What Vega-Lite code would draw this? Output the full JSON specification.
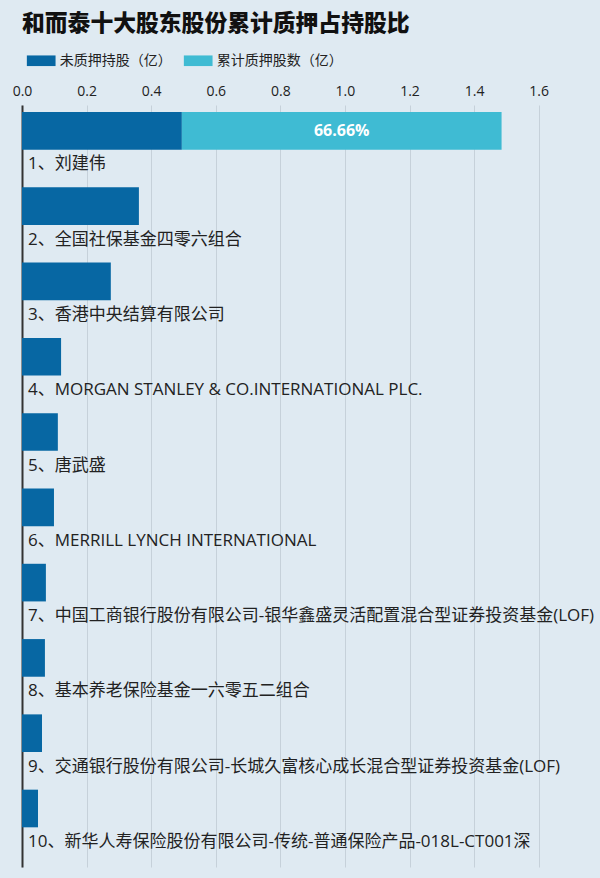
{
  "$schema": "https://vega.github.io/schema/vega-lite/v6.json",
  "width": 549,
  "height": 762,
  "autosize": {"type": "none"},
  "padding": {"left": 22, "top": 105, "right": 29, "bottom": 11},
  "background": "#dfeaf2",
  "title": {
    "text": "和而泰十大股东股份累计质押占持股比",
    "anchor": "start",
    "frame": "group",
    "font": "Noto Sans CJK SC",
    "fontSize": 22.8,
    "fontWeight": 900,
    "color": "#111111",
    "dx": 0,
    "offset": 10.5
  },
  "config": {
    "view": {"stroke": null},
    "font": "Noto Sans CJK SC"
  },
  "data": {
    "values": [
      {"rank": 1, "name": "1、刘建伟", "type": "未质押持股（亿）", "seg": 0, "value": 0.495, "pct": ""},
      {"rank": 1, "name": "1、刘建伟", "type": "累计质押股数（亿）", "seg": 1, "value": 0.99, "pct": "66.66%"},
      {"rank": 2, "name": "2、全国社保基金四零六组合", "type": "未质押持股（亿）", "seg": 0, "value": 0.362, "pct": ""},
      {"rank": 3, "name": "3、香港中央结算有限公司", "type": "未质押持股（亿）", "seg": 0, "value": 0.275, "pct": ""},
      {"rank": 4, "name": "4、MORGAN STANLEY & CO.INTERNATIONAL PLC.", "type": "未质押持股（亿）", "seg": 0, "value": 0.121, "pct": ""},
      {"rank": 5, "name": "5、唐武盛", "type": "未质押持股（亿）", "seg": 0, "value": 0.111, "pct": ""},
      {"rank": 6, "name": "6、MERRILL LYNCH INTERNATIONAL", "type": "未质押持股（亿）", "seg": 0, "value": 0.099, "pct": ""},
      {"rank": 7, "name": "7、中国工商银行股份有限公司-银华鑫盛灵活配置混合型证券投资基金(LOF)", "type": "未质押持股（亿）", "seg": 0, "value": 0.074, "pct": ""},
      {"rank": 8, "name": "8、基本养老保险基金一六零五二组合", "type": "未质押持股（亿）", "seg": 0, "value": 0.071, "pct": ""},
      {"rank": 9, "name": "9、交通银行股份有限公司-长城久富核心成长混合型证券投资基金(LOF)", "type": "未质押持股（亿）", "seg": 0, "value": 0.062, "pct": ""},
      {"rank": 10, "name": "10、新华人寿保险股份有限公司-传统-普通保险产品-018L-CT001深", "type": "未质押持股（亿）", "seg": 0, "value": 0.0495, "pct": ""}
    ]
  },
  "encoding": {
    "y": {
      "field": "name",
      "type": "nominal",
      "sort": {"field": "rank", "op": "min"},
      "scale": {"paddingInner": 0.5, "paddingOuter": 0.31, "align": 0.15},
      "axis": {
        "labels": false,
        "ticks": false,
        "grid": false,
        "title": null,
        "domain": true,
        "domainColor": "#333333",
        "domainWidth": 2
      }
    }
  },
  "layer": [
    {
      "mark": {"type": "bar"},
      "encoding": {
        "x": {
          "field": "value",
          "type": "quantitative",
          "stack": "zero",
          "scale": {"domain": [0, 1.7], "nice": false},
          "axis": {
            "orient": "top",
            "values": [0, 0.2, 0.4, 0.6, 0.8, 1.0, 1.2, 1.4, 1.6],
            "format": ".1f",
            "title": null,
            "domain": false,
            "ticks": false,
            "grid": true,
            "gridColor": "#c6d1da",
            "gridWidth": 1,
            "labelFlush": false,
            "labelFont": "Open Sans",
            "labelFontSize": 14,
            "labelColor": "#222222",
            "labelPadding": 7
          }
        },
        "color": {
          "field": "type",
          "type": "nominal",
          "scale": {
            "domain": ["未质押持股（亿）", "累计质押股数（亿）"],
            "range": ["#0767a3", "#3fbbd3"]
          },
          "legend": {
            "title": null,
            "orient": "none",
            "direction": "horizontal",
            "legendX": 4.7,
            "legendY": -59,
            "padding": 0,
            "symbolType": "M-1,-0.37H1V0.37H-1Z",
            "symbolSize": 824,
            "symbolStrokeWidth": 0,
            "symbolOpacity": 1,
            "labelFont": "Noto Sans CJK SC",
            "labelFontSize": 14,
            "labelColor": "#222222",
            "labelOffset": 4,
            "columnPadding": 12
          }
        },
        "order": {"field": "seg", "type": "quantitative"}
      }
    },
    {
      "mark": {
        "type": "text",
        "color": "#ffffff",
        "fontWeight": "bold",
        "fontSize": 16,
        "font": "Open Sans",
        "baseline": "middle",
        "align": "center"
      },
      "encoding": {
        "x": {"field": "value", "type": "quantitative", "stack": "zero", "bandPosition": 0.5},
        "detail": {"field": "type"},
        "order": {"field": "seg", "type": "quantitative"},
        "text": {"field": "pct"}
      }
    },
    {
      "transform": [{"filter": "datum.seg == 0"}],
      "mark": {
        "type": "text",
        "align": "left",
        "baseline": "middle",
        "dx": 6,
        "dy": 33.5,
        "fontSize": 17,
        "font": "Open Sans, Noto Sans CJK SC",
        "color": "#222222"
      },
      "encoding": {
        "x": {"datum": 0},
        "text": {"field": "name"}
      }
    }
  ]
}
